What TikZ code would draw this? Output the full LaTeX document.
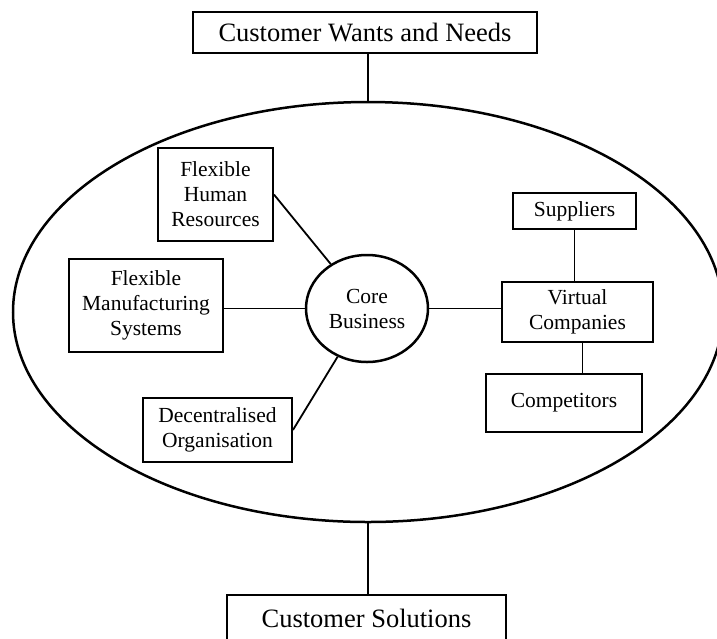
\documentclass[tikz,border=0pt]{standalone}
\usepackage{fontspec}
\setmainfont{Liberation Serif}
\usetikzlibrary{shapes.geometric}

\tikzset{
  box/.style={draw, line width=1.9pt, inner sep=0pt, align=center,
    font=\fontsize{21.5}{25}\selectfont},
  bigbox/.style={draw, line width=1.9pt, inner sep=0pt, align=center,
    font=\fontsize{26.5}{30}\selectfont},
  link/.style={line width=1.8pt},
  oval/.style={draw, ellipse, line width=2.5pt, inner sep=0pt}
}

\begin{document}
\begin{tikzpicture}[x=1pt, y=-1pt]
  \useasboundingbox (0,0) rectangle (717,638);

  % outer market ellipse
  \node[oval, minimum width=710pt, minimum height=420pt] (market) at (368,312) {};

  % customer side
  \node[bigbox, minimum width=344pt, minimum height=41pt] (wants) at (365,32.5) {Customer Wants and Needs};
  \node[bigbox, minimum width=279pt, minimum height=47pt] (solutions) at (366.5,618.5) {Customer Solutions};

  % core and its supports
  \node[box, oval, minimum width=122pt, minimum height=107pt] (core) at (367,308.5) {Core\\Business};
  \node[box, minimum width=115pt, minimum height=93pt] (fhr) at (215.5,194.5) {Flexible\\Human\\Resources};
  \node[box, minimum width=154pt, minimum height=93pt] (fms) at (146,305.5) {Flexible\\Manufacturing\\Systems};
  \node[box, minimum width=149pt, minimum height=64pt] (dec) at (217.5,430) {Decentralised\\Organisation};

  % virtual company network
  \node[box, minimum width=123pt, minimum height=36pt] (sup) at (574.5,211) {Suppliers};
  \node[box, minimum width=151pt, minimum height=60pt] (virt) at (577.5,312) {Virtual\\Companies};
  \node[box, minimum width=156pt, minimum height=58pt] (comp) at (564,403) {Competitors};

  % connectors
  \draw[link] (market.north |- wants.south) -- (market.north);
  \draw[link] (market.south) -- (market.south |- solutions.north);
  \draw[link] (fhr.east) -- (core);
  \draw[link] (core.west) -- (core.west -| fms.east);
  \draw[link] (dec.east) -- (core);
  \draw[link] (core.east) -- (core.east -| virt.west);
  \draw[link] (sup.south) -- (sup.south |- virt.north);
  \draw[link] ([xshift=5pt]virt.south) -- ([xshift=5pt]virt.south |- comp.north);
\end{tikzpicture}
\end{document}
